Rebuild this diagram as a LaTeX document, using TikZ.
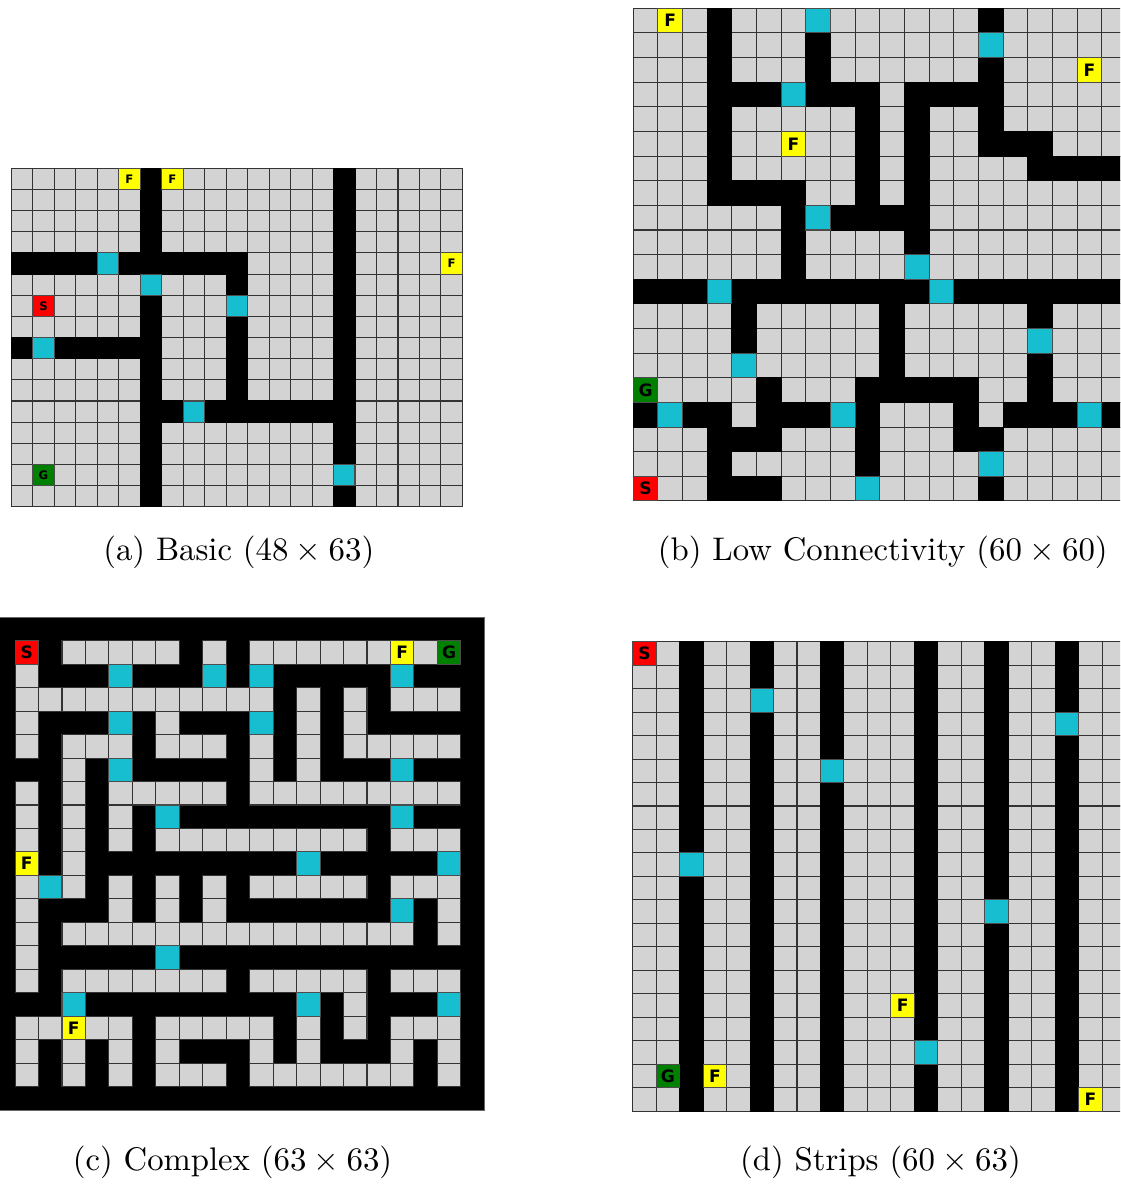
\documentclass[tikz,border=0pt]{standalone}
\usepackage{fontspec}
\usepackage{xcolor}
\usepackage{tikz}
\newfontfamily\markfont{DejaVu Sans}
\definecolor{tilegray}{HTML}{D3D3D3}
\definecolor{doorcyan}{HTML}{17BECF}
\definecolor{startred}{HTML}{FF0000}
\definecolor{goalgreen}{HTML}{008000}
\definecolor{flagyellow}{HTML}{FFFF00}

\begin{document}
\begin{tikzpicture}[x=0.3333pt,y=-0.3333pt,
  tile/.style={draw=black!80,line width=.35pt,fill=tilegray},
  wall/.style={draw=black,line width=.35pt,fill=black},
  door/.style={draw=black!70,line width=.35pt,fill=doorcyan},
  letter/.style={font=\markfont\bfseries\fontsize{#1}{#1}\selectfont,inner sep=0pt},
  caption/.style={font=\fontsize{10.9}{13}\selectfont,anchor=base}]
 \useasboundingbox (0,0) rectangle (1120,1184);
 \clip (0,0) rectangle (1120,1184);
 % (a) basic
 \begin{scope}[shift={(11.3,168.3)},x=7.16pt,y=-7.05pt]
  \foreach \i in {0,...,20} \foreach \j in {0,...,15} \draw[tile] (\i,\j) rectangle ++(1,1);
  \foreach \j/\w in {0/{6,15},1/{6,15},2/{6,15},3/{6,15},4/{0,1,2,3,5,6,7,8,9,10,15},5/{10,15},6/{6,15},7/{6,10,15},
    8/{0,2,3,4,5,6,10,15},9/{6,10,15},10/{6,10,15},11/{6,7,9,10,11,12,13,14,15},12/{6,15},13/{6,15},14/{6},15/{6,15}}
   \foreach \i in \w \draw[wall] (\i,\j) rectangle ++(1,1);
  \foreach \i/\j in {4/4,6/5,10/6,1/8,8/11,15/14} \draw[door] (\i,\j) rectangle ++(1,1);
  \foreach \i/\j/\t/\f in {5/0/F/flagyellow,7/0/F/flagyellow,20/4/F/flagyellow,1/6/S/startred,1/14/G/goalgreen} {
   \draw[door,fill=\f] (\i,\j) rectangle ++(1,1);
   \node[letter=3.9] (a\t\i-\j) at (\i+.5,\j+.5) {\t};}
 \end{scope}
 % (b) low connectivity
 \begin{scope}[shift={(633.3,8.3)},x=8.217pt,y=-8.21pt]
  \foreach \i in {0,...,19} \foreach \j in {0,...,19} \draw[tile] (\i,\j) rectangle ++(1,1);
  \foreach \j/\w in {0/{3,14},1/{3,7},2/{3,7,14},3/{3,4,5,7,8,9,11,12,13,14},4/{3,9,11,14},5/{3,9,11,14,15,16},
    6/{3,9,11,16,17,18,19},7/{3,4,5,6,9,11},8/{6,8,9,10,11},9/{6,11},10/{6},
    11/{0,1,2,4,5,6,7,8,9,10,11,13,14,15,16,17,18,19},12/{4,10,16},13/{4,10},14/{10,16},
    15/{5,9,10,11,12,13,16},16/{0,2,3,5,6,7,9,13,15,16,17,19},17/{3,4,5,9,13,14},18/{3,9},19/{3,4,5,14}}
   \foreach \i in \w \draw[wall] (\i,\j) rectangle ++(1,1);
  \foreach \i/\j in {7/0,14/1,6/3,7/8,11/10,3/11,12/11,16/13,4/14,1/16,8/16,18/16,14/18,9/19}
   \draw[door] (\i,\j) rectangle ++(1,1);
  \foreach \i/\j/\t/\f in {1/0/F/flagyellow,18/2/F/flagyellow,6/5/F/flagyellow,0/15/G/goalgreen,0/19/S/startred} {
   \draw[door,fill=\f] (\i,\j) rectangle ++(1,1);
   \node[letter=5.7] (b\t\i-\j) at (\i+.5,\j+.5) {\t};}
 \end{scope}
 % (c) complex
 \begin{scope}[shift={(-8.4,617.3)},x=7.82pt,y=-7.82pt]
  \draw[black!60,fill=black,line width=.35pt] (0,0) rectangle (21,21);
  \foreach \j/\w in {1/{3,4,5,6,7,9,11,12,13,14,15,16,18},2/{1},3/{1,2,3,4,5,6,7,8,9,10,11,13,15,17,18,19},
    4/{1,7,13,15},5/{1,3,4,5,7,8,9,11,13,15,16,17,18,19},6/{3,11,13},
    7/{1,3,5,6,7,8,9,11,12,13,14,15,16,17,18,19},8/{1,3,5},9/{1,3,5,7,8,9,10,11,12,13,14,15,17,18,19},
    10/{3},11/{1,3,5,7,9,11,12,13,14,15,17,18,19},12/{1,5,7,9,19},
    13/{1,3,4,5,6,7,8,9,10,11,12,13,14,15,16,17,19},14/{1},15/{1,3,4,5,6,7,8,9,11,12,13,14,15,17,18,19},
    16/{15},17/{1,2,4,5,7,8,9,10,11,13,15,17,18,19},18/{1,3,5,7,11,13,17,19},19/{1,3,5,7,8,9,11,12,13,14,15,16,17,19}}
   \foreach \i in \w \draw[tile] (\i,\j) rectangle ++(1,1);
  \foreach \i/\j in {5/2,9/2,11/2,17/2,5/4,11/4,5/6,17/6,7/8,17/8,13/10,19/10,2/11,17/12,7/14,3/16,13/16,19/16}
   \draw[door] (\i,\j) rectangle ++(1,1);
  \foreach \i/\j/\t/\f in {1/1/S/startred,17/1/F/flagyellow,19/1/G/goalgreen,1/10/F/flagyellow,3/17/F/flagyellow} {
   \draw[door,fill=\f] (\i,\j) rectangle ++(1,1);
   \node[letter=5.7] (c\t\i-\j) at (\i+.5,\j+.5) {\t};}
 \end{scope}
 % (d) strips
 \begin{scope}[shift={(632.7,641.7)},x=7.823pt,y=-7.823pt]
  \foreach \i in {0,...,20} \foreach \j in {0,...,19} \draw[tile] (\i,\j) rectangle ++(1,1);
  \foreach \i/\j in {2/9,5/2,8/5,12/17,15/11,18/3} {
   \draw[wall] (\i,0) rectangle (\i+1,20);
   \draw[door] (\i,\j) rectangle ++(1,1);}
  \foreach \i/\j/\t/\f in {0/0/S/startred,1/18/G/goalgreen,3/18/F/flagyellow,11/15/F/flagyellow,19/19/F/flagyellow} {
   \draw[door,fill=\f] (\i,\j) rectangle ++(1,1);
   \node[letter=5.7] (d\t\i-\j) at (\i+.5,\j+.5) {\t};}
 \end{scope}
 % captions
 \node[caption] (capa) at (238.8,560) {(a) Basic ($48 \times 63$)};
 \node[caption] (capb) at (882.8,560) {(b) Low Connectivity ($60 \times 60$)};
 \node[caption] (capc) at (232.5,1170.5) {(c) Complex ($63 \times 63$)};
 \node[caption] (capd) at (880.5,1170.5) {(d) Strips ($60 \times 63$)};
\end{tikzpicture}
\end{document}
